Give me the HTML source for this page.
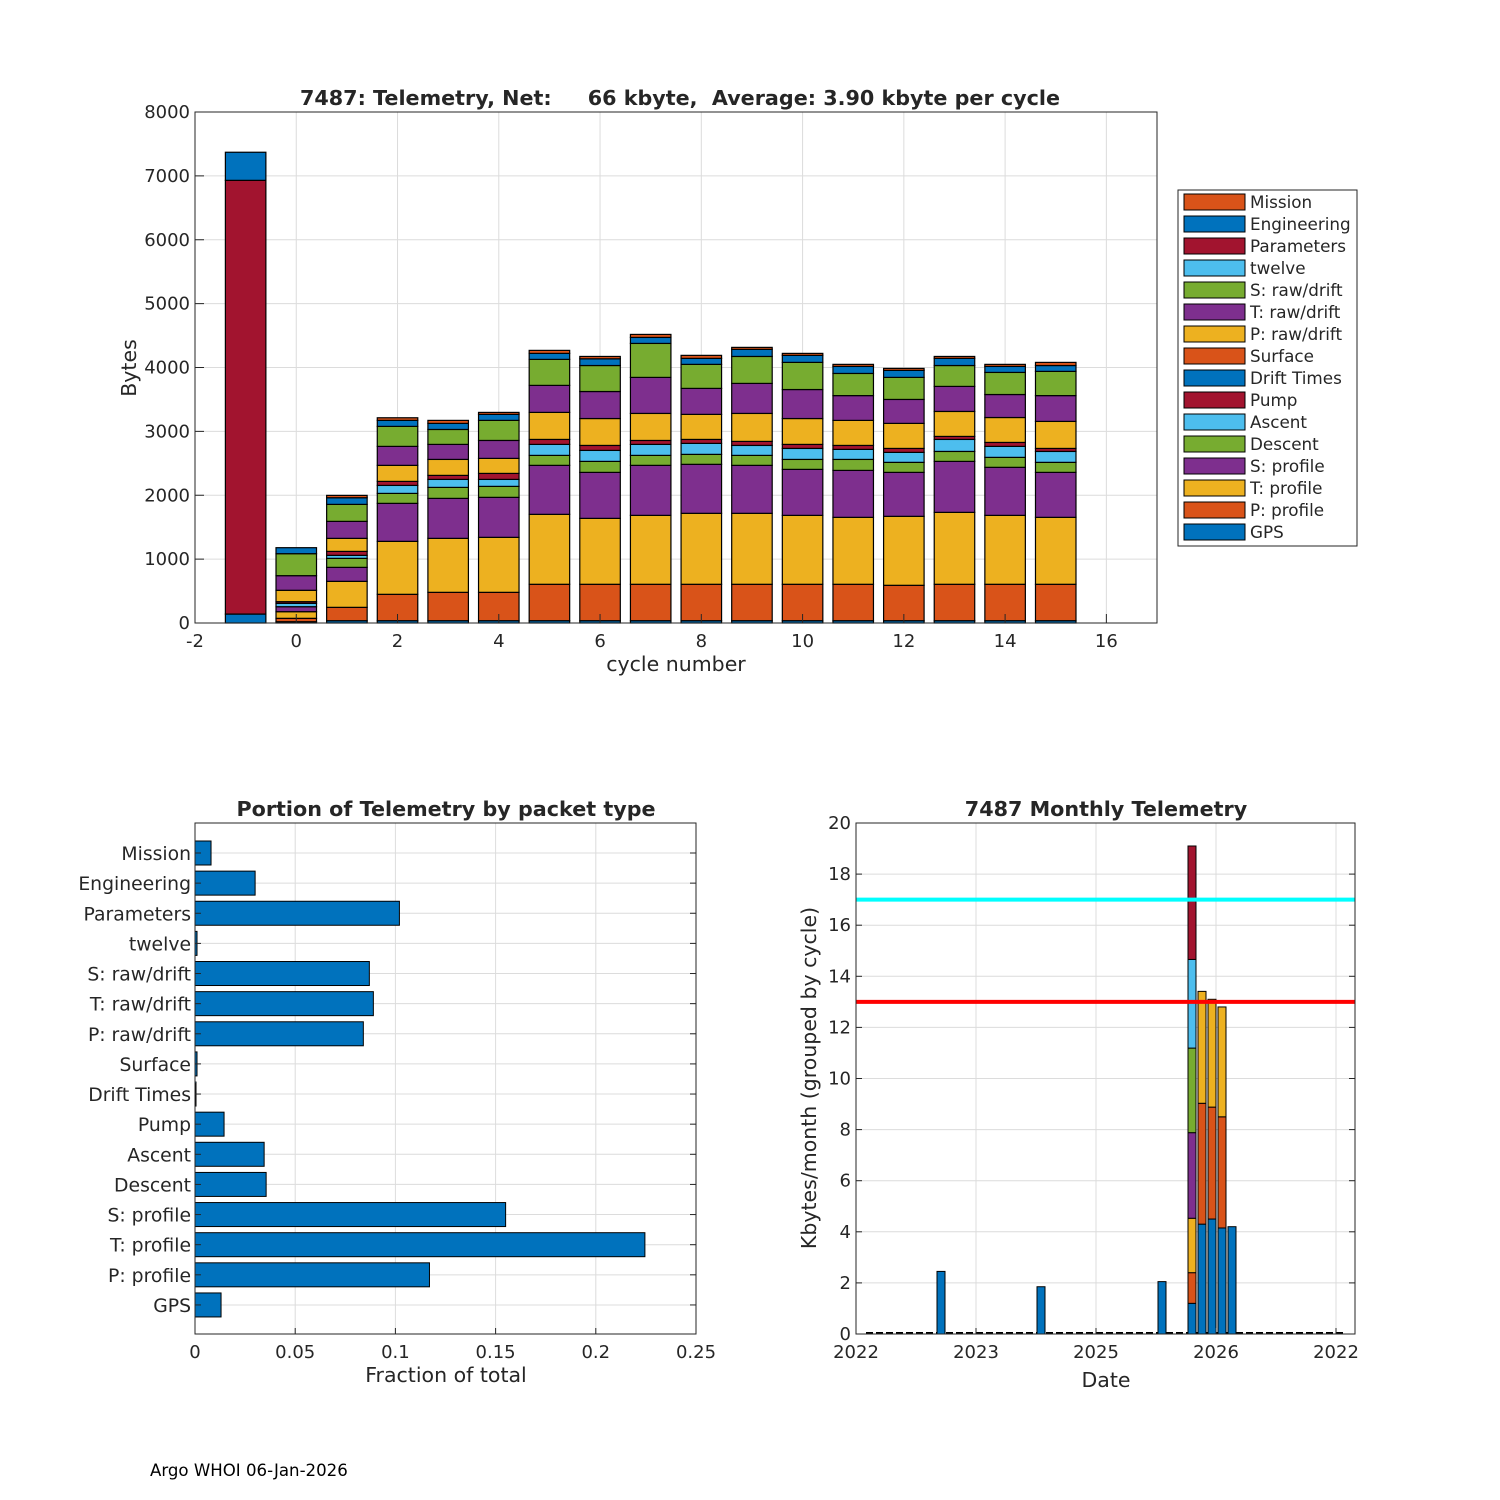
<!DOCTYPE html>
<html><head><meta charset="utf-8">
<style>
body{margin:0;background:#fff;}
svg{display:block;font-family:"DejaVu Sans","Liberation Sans",sans-serif;}
</style></head>
<body>
<svg id="s" width="1500" height="1500" viewBox="0 0 1500 1500"></svg>
<script>
// ---------- data ----------
const cycles = [-1,0,1,2,3,4,5,6,7,8,9,10,11,12,13,14,15];
const seriesNames = ["GPS","P: profile","T: profile","S: profile","Descent","Ascent","Pump","Drift Times","Surface","P: raw/drift","T: raw/drift","S: raw/drift","twelve","Parameters","Engineering","Mission"];
const gpsVals    = [140,20,36,36,36,36,36,36,36,36,36,36,36,36,36,36,36];
const pProfVals  = [0,53,209,413,444,444,570,570,570,570,570,570,570,554,570,570,570];
const tProfVals  = [0,104,407,829,845,861,1095,1032,1079,1111,1111,1079,1048,1080,1126,1079,1048];
const sProfVals  = [0,78,219,595,626,626,767,720,783,767,751,720,735,688,798,752,704];
const descVals   = [0,0,141,156,172,172,156,172,156,156,156,156,172,157,156,156,157];
const ascVals    = [0,53,47,125,125,109,172,172,172,172,156,172,157,156,188,172,171];
const pumpVals   = [0,26,62,63,63,94,78,78,62,62,63,63,62,62,47,62,47];
const driftVals  = [0,0,0,0,0,0,0,0,0,0,0,0,0,0,0,0,0];
const surfVals   = [0,0,0,0,0,0,0,0,0,0,0,0,0,0,0,0,0];
const pRawVals   = [0,178,204,251,250,235,423,421,423,392,438,405,392,392,391,390,423];
const tRawVals   = [0,229,266,297,235,281,423,423,564,407,470,454,388,375,392,360,404];
const sRawVals   = [0,344,266,313,234,314,407,407,532,376,422,425,347,345,327,346,379];
const twelveVals = [0,0,0,0,0,0,0,0,0,0,0,0,0,0,0,0,0];
const paramVals  = [6790,0,0,0,0,0,0,0,0,0,0,0,0,0,0,0,0];
const engVals    = [440,94,104,94,95,94,94,105,94,94,111,110,110,110,112,94,92];
const missVals   = [0,0,37,41,47,31,47,37,47,47,31,31,32,31,30,32,49];
const seriesVals = [gpsVals,pProfVals,tProfVals,sProfVals,descVals,ascVals,pumpVals,driftVals,surfVals,pRawVals,tRawVals,sRawVals,twelveVals,paramVals,engVals,missVals];
const seriesColors = ["#0072bd","#d95319","#edb120","#7e2f8e","#77ac30","#4dbeee","#a2142f","#0072bd","#d95319","#edb120","#7e2f8e","#77ac30","#4dbeee","#a2142f","#0072bd","#d95319"];
const topXTicks = [-2,0,2,4,6,8,10,12,14,16];
const topYTicks = [0,1000,2000,3000,4000,5000,6000,7000,8000];

const fracCats = ["Mission","Engineering","Parameters","twelve","S: raw/drift","T: raw/drift","P: raw/drift","Surface","Drift Times","Pump","Ascent","Descent","S: profile","T: profile","P: profile","GPS"];
const fracVals = [0.008,0.030,0.102,0.001,0.087,0.089,0.084,0.001,0.0005,0.0145,0.0345,0.0355,0.155,0.2245,0.117,0.013];
const fracTicks = [0,0.05,0.1,0.15,0.2,0.25];
const fracTickLabels = ["0","0.05","0.1","0.15","0.2","0.25"];

const monthPos = [8.5,18.5,30.6,33.6,34.6,35.6,36.6,37.6];
const monthStacks = [[2.45],[1.85],[2.05],[1.2,1.2,2.13,3.35,3.31,3.47,4.44],[4.3,4.73,4.38],[4.5,4.38,4.22],[4.15,4.35,4.3],[4.2]];
const monthColors = [["#0072bd"],["#0072bd"],["#0072bd"],["#0072bd","#d95319","#edb120","#7e2f8e","#77ac30","#4dbeee","#a2142f"],["#0072bd","#d95319","#edb120"],["#0072bd","#d95319","#edb120"],["#0072bd","#d95319","#edb120"],["#0072bd"]];
const monthXTicks = [0,12,24,36,48];
const monthXLabels = ["2022","2023","2025","2026","2022"];
const monthYTicks = [0,2,4,6,8,10,12,14,16,18,20];
const limitHigh = 17, limitLow = 13;

// ---------- helpers ----------
const S = document.getElementById('s');
const NS = "http://www.w3.org/2000/svg";
function mk(tag, attrs, parent){
  const e = document.createElementNS(NS, tag);
  for (const k in attrs) e.setAttribute(k, attrs[k]);
  (parent||S).appendChild(e);
  return e;
}
function txt(x,y,str,size,anchor,weight,parent){
  const t = mk('text',{x:x,y:y,'font-size':size,'text-anchor':anchor||'middle','font-weight':weight||'normal',fill:'#262626'},parent);
  t.textContent = str;
  return t;
}
const TICK=18, LAB=20.5, TITLE=20.7;

// ---------- top chart ----------
const T = {l:195,r:1157,t:112,b:623,x0:-2,x1:17,y0:0,y1:8000};
const tx = v => T.l + (v-T.x0)/(T.x1-T.x0)*(T.r-T.l);
const ty = v => T.b - (v-T.y0)/(T.y1-T.y0)*(T.b-T.t);
const g1 = mk('g',{});


mk('rect',{x:T.l,y:T.t,width:T.r-T.l,height:T.b-T.t,fill:'#fff'},g1);
topXTicks.forEach(v=>{ mk('line',{x1:tx(v),x2:tx(v),y1:T.t,y2:T.b,stroke:'#dcdcdc','stroke-width':1},g1); });
topYTicks.forEach(v=>{ mk('line',{x1:T.l,x2:T.r,y1:ty(v),y2:ty(v),stroke:'#dcdcdc','stroke-width':1},g1); });
cycles.forEach((c,i)=>{
  let acc=0;
  seriesVals.forEach((arr,si)=>{
    const v = arr[i];
    if(v<=0) return;
    const r = mk('rect',{x:tx(c-0.4),y:ty(acc+v),width:tx(c+0.4)-tx(c-0.4),height:ty(acc)-ty(acc+v),fill:seriesColors[si],stroke:'#000','stroke-width':1.2},g1);
    
    
    acc+=v;
  });
});
mk('rect',{x:T.l,y:T.t,width:T.r-T.l,height:T.b-T.t,fill:'none',stroke:'#262626','stroke-width':1},g1);
topXTicks.forEach(v=>{ mk('line',{x1:tx(v),x2:tx(v),y1:T.b,y2:T.b-9,stroke:'#262626'},g1); txt(tx(v),T.b+24,String(v),TICK,'middle','normal',g1); });
topYTicks.forEach(v=>{ mk('line',{x1:T.l,x2:T.l+9,y1:ty(v),y2:ty(v),stroke:'#262626'},g1); txt(T.l-5,ty(v)+6,String(v),TICK,'end','normal',g1); });
let e;
e = txt(676,671,'cycle number',LAB,'middle','normal',g1);
 
e = txt(0,0,'Bytes',LAB,'middle','normal',g1); e.setAttribute('transform','translate(136,368) rotate(-90)');
 
e = txt(680,105,'7487: Telemetry, Net:     66 kbyte,  Average: 3.90 kbyte per cycle',TITLE,'middle','bold',g1);
e.setAttribute('xml:space','preserve'); e.style.whiteSpace='pre';
 

// legend
const lg = mk('g',{});


mk('rect',{x:1178,y:190,width:179,height:356,fill:'#fff',stroke:'#262626','stroke-width':1},lg);
for(let k=0;k<16;k++){
  const si = 15-k;
  const y = 202 + k*22;
  const it = mk('g',{},lg);
  
  
  mk('rect',{x:1184,y:y-8,width:61,height:16,fill:seriesColors[si],stroke:'#000','stroke-width':1},it);
  txt(1250,y+6,seriesNames[si],16.8,'start','normal',it);
}

// ---------- bottom-left ----------
const B = {l:195,r:696,t:823,b:1334,x1:0.25};
const bx = v => B.l + v/B.x1*(B.r-B.l);
const rowY = i => 853 + i*30.13;
const g2 = mk('g',{});


fracTicks.forEach(v=>mk('line',{x1:bx(v),x2:bx(v),y1:B.t,y2:B.b,stroke:'#dcdcdc'},g2));
fracCats.forEach((c,i)=>mk('line',{x1:B.l,x2:B.r,y1:rowY(i),y2:rowY(i),stroke:'#dcdcdc'},g2));
fracCats.forEach((c,i)=>{
  const r = mk('rect',{x:bx(0),y:rowY(i)-12,width:Math.max(bx(fracVals[i])-bx(0),0.8),height:24,fill:'#0072bd',stroke:'#000','stroke-width':1},g2);
  
  
  mk('line',{x1:B.l,x2:B.l+6,y1:rowY(i),y2:rowY(i),stroke:'#262626'},g2);
  mk('line',{x1:B.r,x2:B.r-6,y1:rowY(i),y2:rowY(i),stroke:'#262626'},g2);
  txt(B.l-4,rowY(i)+7,c,18.8,'end','normal',g2);
});
mk('rect',{x:B.l,y:B.t,width:B.r-B.l,height:B.b-B.t,fill:'none',stroke:'#262626'},g2);
fracTicks.forEach((v,i)=>{ mk('line',{x1:bx(v),x2:bx(v),y1:B.b,y2:B.b-6,stroke:'#262626'},g2); txt(bx(v),B.b+24,fracTickLabels[i],TICK,'middle','normal',g2); });
e = txt(446,1382,'Fraction of total',LAB,'middle','normal',g2);
 
e = txt(446,816,'Portion of Telemetry by packet type',TITLE,'middle','bold',g2);
 

// ---------- bottom-right ----------
const M = {l:856,r:1355,t:823,b:1334,x0:0,x1:49.9,y1:20};
const mx = v => M.l + (v-M.x0)/(M.x1-M.x0)*(M.r-M.l);
const my = v => M.b - v/M.y1*(M.b-M.t);
const g3 = mk('g',{});


monthXTicks.forEach(v=>mk('line',{x1:mx(v),x2:mx(v),y1:M.t,y2:M.b,stroke:'#dcdcdc'},g3));
monthYTicks.forEach(v=>mk('line',{x1:M.l,x2:M.r,y1:my(v),y2:my(v),stroke:'#dcdcdc'},g3));
mk('line',{x1:mx(1),x2:mx(49),y1:my(0)-1,y2:my(0)-1,stroke:'#000','stroke-width':2,'stroke-dasharray':'7,3'},g3);
monthPos.forEach((p,i)=>{
  let acc=0;
  monthStacks[i].forEach((v,j)=>{
    const r = mk('rect',{x:mx(p)-4,y:my(acc+v),width:8,height:my(acc)-my(acc+v),fill:monthColors[i][j],stroke:'#000','stroke-width':1},g3);
    
    
    acc+=v;
  });
});
e = mk('line',{x1:M.l,x2:M.r,y1:my(limitHigh),y2:my(limitHigh),stroke:'#00ffff','stroke-width':4},g3);
 
e = mk('line',{x1:M.l,x2:M.r,y1:my(limitLow),y2:my(limitLow),stroke:'#ff0000','stroke-width':4},g3);
 
mk('rect',{x:M.l,y:M.t,width:M.r-M.l,height:M.b-M.t,fill:'none',stroke:'#262626'},g3);
monthXTicks.forEach((v,i)=>{ mk('line',{x1:mx(v),x2:mx(v),y1:M.b,y2:M.b-6,stroke:'#262626'},g3); txt(mx(v),M.b+24,monthXLabels[i],TICK,'middle','normal',g3); });
monthYTicks.forEach(v=>{ mk('line',{x1:M.l,x2:M.l+6,y1:my(v),y2:my(v),stroke:'#262626'},g3); mk('line',{x1:M.r,x2:M.r-6,y1:my(v),y2:my(v),stroke:'#262626'},g3); txt(M.l-5,my(v)+6,String(v),TICK,'end','normal',g3); });
e = txt(1106,1387,'Date',LAB,'middle','normal',g3);
 
e = txt(0,0,'Kbytes/month (grouped by cycle)',LAB,'middle','normal',g3); e.setAttribute('transform','translate(816,1078) rotate(-90)');
 
e = txt(1106,816,'7487 Monthly Telemetry',TITLE,'middle','bold',g3);
 

e = mk('text',{x:150,y:1476,'font-size':16.6,fill:'#000'});
e.textContent='Argo WHOI 06-Jan-2026';
 
</script>
</body></html>
